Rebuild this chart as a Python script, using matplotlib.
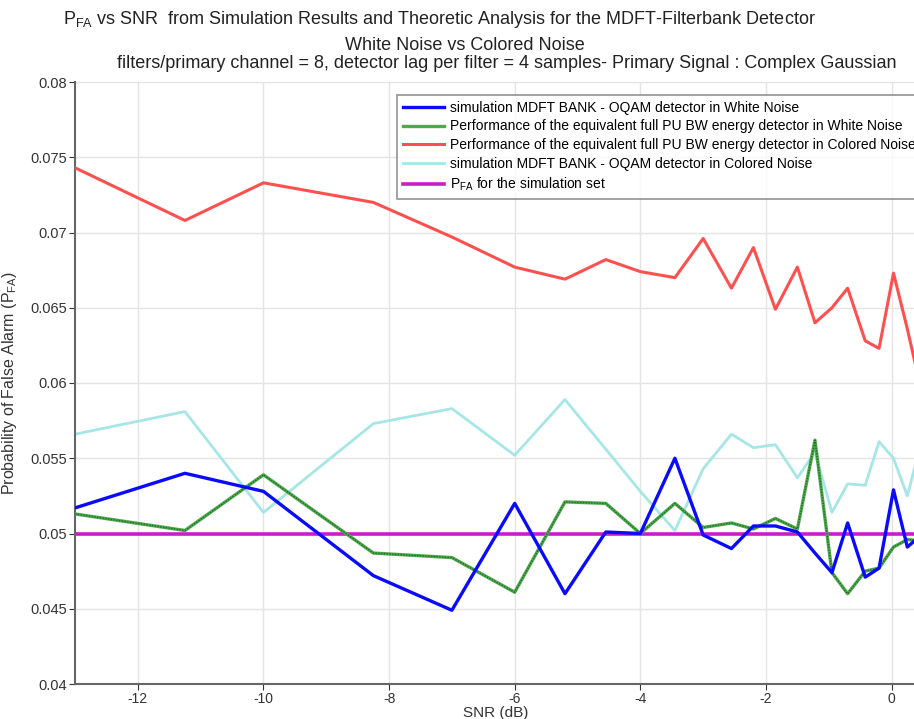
import matplotlib
matplotlib.use("Agg")
import matplotlib.pyplot as plt
from matplotlib.ticker import FormatStrFormatter
from matplotlib import font_manager

# SNR grid (dB)
snr = [-13, -11.25, -10, -8.25, -7, -6, -5.2, -4.55, -4, -3.45, -3, -2.55,
       -2.2, -1.85, -1.5, -1.22, -0.95, -0.7, -0.42, -0.2, 0.03, 0.25, 0.5]

pfa_mdft_white = [0.0517, 0.0540, 0.0528, 0.0472, 0.0449, 0.0520, 0.0460, 0.0501,
                  0.0500, 0.0550, 0.0499, 0.0490, 0.0505, 0.0505, 0.0501, 0.0487,
                  0.0474, 0.0507, 0.0471, 0.0477, 0.0529, 0.0491, 0.0500]
pfa_ed_white = [0.0513, 0.0502, 0.0539, 0.0487, 0.0484, 0.0461, 0.0521, 0.0520,
                0.0500, 0.0520, 0.0504, 0.0507, 0.0503, 0.0510, 0.0503, 0.0562,
                0.0474, 0.0460, 0.0475, 0.0477, 0.0491, 0.0496, 0.0495]
pfa_ed_colored = [0.0743, 0.0708, 0.0733, 0.0720, 0.0697, 0.0677, 0.0669, 0.0682,
                  0.0674, 0.0670, 0.0696, 0.0663, 0.0690, 0.0649, 0.0677, 0.0640,
                  0.0650, 0.0663, 0.0628, 0.0623, 0.0673, 0.0636, 0.0590]
pfa_mdft_colored = [0.0566, 0.0581, 0.0514, 0.0573, 0.0583, 0.0552, 0.0589, 0.0556,
                    0.0528, 0.0502, 0.0543, 0.0566, 0.0557, 0.0559, 0.0537, 0.0554,
                    0.0514, 0.0533, 0.0532, 0.0561, 0.0550, 0.0525, 0.0565]
pfa_target = 0.05

labels = [
    "simulation MDFT BANK - OQAM detector in White Noise",
    "Performance of the equivalent full PU BW energy detector in White Noise",
    "Performance of the equivalent full PU BW energy detector in Colored Noise",
    "simulation MDFT BANK - OQAM detector in Colored Noise",
    r"$\mathregular{P_{FA}}$ for the simulation set",
]

names = {f.name for f in font_manager.fontManager.ttflist}
base_font = "Liberation Sans Narrow" if "Liberation Sans Narrow" in names else "Liberation Sans"
plt.rcParams["font.family"] = [base_font, "DejaVu Sans"]
plt.rcParams["mathtext.fontset"] = "custom"
plt.rcParams["mathtext.rm"] = base_font
plt.rcParams["axes.unicode_minus"] = False

fig = plt.figure(figsize=(9.14, 7.19), dpi=100)
ax = fig.add_axes([75 / 914, 1 - 684 / 719, 1.003 - 75 / 914, (684 - 82) / 719])

ax.plot(snr, pfa_mdft_white, color="#0a0aff", lw=2.4, label=labels[0], zorder=5)
ax.plot(snr, pfa_ed_white, color="#4fa84f", lw=2.4, label=labels[1], zorder=4)
ax.plot(snr, pfa_ed_white, color="#1d6e1d", lw=1.0, ls=(0, (1, 1)), zorder=4)
ax.plot(snr, pfa_ed_colored, color="#ff5050", lw=2.2, label=labels[2], zorder=3)
ax.plot(snr, pfa_mdft_colored, color="#a6e6e6", lw=2.0, label=labels[3], zorder=2)
ax.axhline(pfa_target, color="#c81ec8", lw=2.6, label=labels[4], zorder=3)

ax.set_xlim(-13, 0.4)
ax.set_ylim(0.04, 0.08)
ax.set_xticks([-12, -10, -8, -6, -4, -2, 0])
ax.set_yticks([0.04, 0.045, 0.05, 0.055, 0.06, 0.065, 0.07, 0.075, 0.08])
ax.yaxis.set_major_formatter(FormatStrFormatter("%g"))
ax.grid(True, color="#e4e4e4", lw=1.0)
ax.tick_params(labelsize=10.5, colors="#333333", length=4, direction="out", pad=2)
ax.tick_params(axis="x", labelsize=10, pad=1.5)
ax.tick_params(axis="y", right=True)
for s in ["left", "bottom"]:
    ax.spines[s].set_color("#666666")
    ax.spines[s].set_linewidth(1.5)
ax.spines["top"].set_visible(False)
ax.spines["right"].set_color("#666666")

ax.set_xlabel("SNR (dB)", fontsize=11, color="#333333", labelpad=0)
ax.set_ylabel(r"Probability of False Alarm ($\mathregular{P_{FA}}$)", fontsize=11.5,
              color="#333333", labelpad=8)

fig.text(439 / 914, 1 - 20 / 719,
         r"$\mathregular{P_{FA}}$ vs SNR  from Simulation Results and Theoretic Analysis for the MDFT-Filterbank Detector",
         ha="center", va="center", fontsize=13, color="#222222")
fig.text(465 / 914, 1 - 45 / 719, "White Noise vs Colored Noise",
         ha="center", va="center", fontsize=13, color="#222222")
fig.text(507 / 914, 1 - 63 / 719,
         "filters/primary channel = 8, detector lag per filter = 4 samples- Primary Signal : Complex Gaussian",
         ha="center", va="center", fontsize=13, color="#222222")

leg = ax.legend(loc="upper left", bbox_to_anchor=(397 / 914, 1 - 95 / 719),
                bbox_transform=fig.transFigure, fontsize=10, frameon=True,
                fancybox=False, edgecolor="#777777", handlelength=3.0,
                handletextpad=0.4, labelspacing=0.35, borderaxespad=0,
                borderpad=0.4)
leg.get_frame().set_linewidth(1.2)

fig.savefig("out.png", dpi=100)
